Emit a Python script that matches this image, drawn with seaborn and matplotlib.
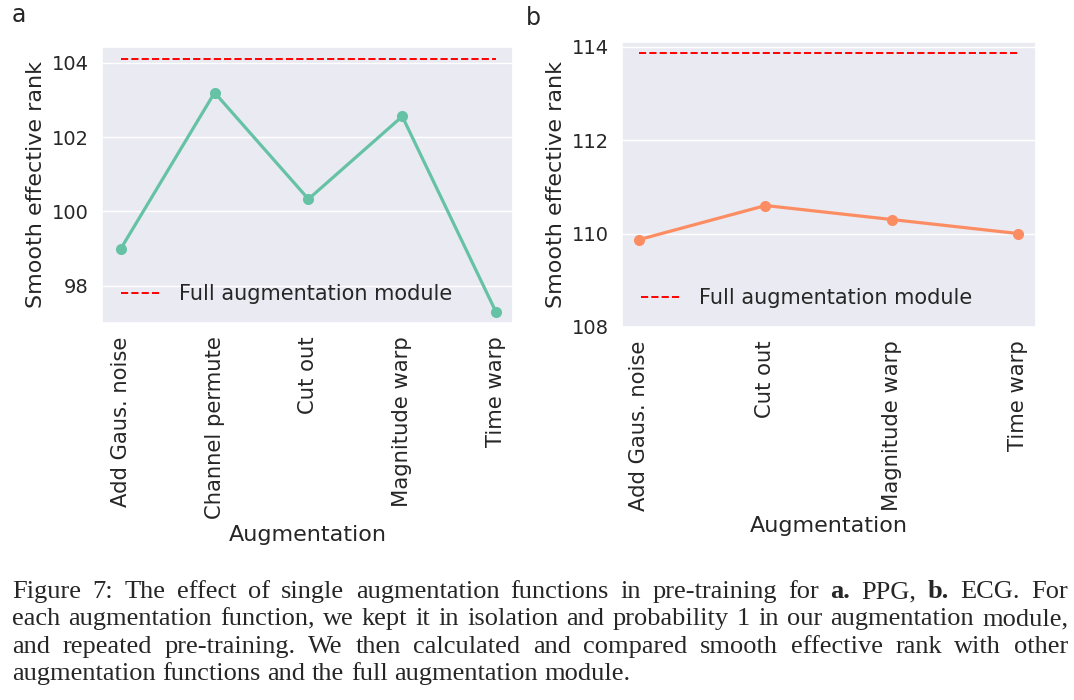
import matplotlib
matplotlib.use("Agg")
import matplotlib.pyplot as plt
import seaborn as sns
import pandas as pd

# data
aug_ppg = ["Add Gaus. noise", "Channel permute", "Cut out", "Magnitude warp", "Time warp"]
rank_ppg = [98.99, 103.2, 100.33, 102.56, 97.28]
full_ppg = 104.12

aug_ecg = ["Add Gaus. noise", "Cut out", "Magnitude warp", "Time warp"]
rank_ecg = [109.87, 110.6, 110.3, 110.0]
full_ecg = 113.86

caption_lines = [
    [("Figure", "normal"), ("7:", "normal"), ("The", "normal"), ("effect", "normal"), ("of", "normal"),
     ("single", "normal"), ("augmentation", "normal"), ("functions", "normal"), ("in", "normal"),
     ("pre-training", "normal"), ("for", "normal"), ("a.", "bold"), ("PPG,", "normal"),
     ("b.", "bold"), ("ECG.", "normal"), ("For", "normal")],
    [(w, "normal") for w in "each augmentation function, we kept it in isolation and probability 1 in our augmentation module,".split()],
    [(w, "normal") for w in "and repeated pre-training.  We then calculated and compared smooth effective rank with other".split()],
    [(w, "normal") for w in "augmentation functions and the full augmentation module.".split()],
]

sns.set_theme(style="darkgrid")
plt.rcParams["font.family"] = ["DejaVu Sans"]

fig = plt.figure(figsize=(10.74, 7), dpi=100)
ax1 = fig.add_axes([102 / 1074, 1 - 323 / 700, 411 / 1074, 276 / 700])
ax2 = fig.add_axes([622 / 1074, 1 - 327 / 700, 414 / 1074, 285 / 700])

pal = sns.color_palette("Set2")

def panel(ax, names, vals, full, color, ylim, xlim):
    df = pd.DataFrame({"Augmentation": names, "rank": vals})
    sns.lineplot(data=df, x="Augmentation", y="rank", ax=ax, color=color, marker="o",
                 markersize=8, markeredgewidth=0, linewidth=2.3, sort=False)
    ax.hlines(full, 0, len(names) - 1, colors="red", linestyles="--", linewidth=1.4,
              label="Full augmentation module")
    ax.set_ylim(*ylim)
    ax.set_xlim(*xlim)
    ax.set_xticks(range(len(names)))
    ax.set_xticklabels(names, rotation=90, fontsize=15.2)
    ax.tick_params(axis="y", labelsize=14)
    ax.grid(False, axis="x")
    ax.set_xlabel("Augmentation", fontsize=16)
    ax.set_ylabel("Smooth effective rank", fontsize=16)
    ax.legend(loc="lower left", frameon=False, fontsize=15)

panel(ax1, aug_ppg, rank_ppg, full_ppg, pal[0], (96.99, 104.43), (-0.2, 4.18))
ax1.set_yticks([98, 100, 102, 104])
panel(ax2, aug_ecg, rank_ecg, full_ecg, pal[1], (108.0, 114.1), (-0.135, 3.14))
ax2.set_yticks([108, 110, 112, 114])

fig.text(12 / 1074, 1 - 15 / 700, "a", fontsize=17, va="center", ha="left")
fig.text(526 / 1074, 1 - 18 / 700, "b", fontsize=17, va="center", ha="left")

# justified caption
renderer = fig.canvas.get_renderer()
left_px, right_px = 12, 1068
baselines = [598, 625, 653, 680]
serif = ["Liberation Serif", "DejaVu Serif"]
cap_size = 19
for i, (words, base) in enumerate(zip(caption_lines, baselines)):
    texts = [fig.text(0, 1 - base / 700, w, fontsize=cap_size, fontweight=wt, family=serif,
                      va="baseline", ha="left") for w, wt in words]
    widths = [t.get_window_extent(renderer).width for t in texts]
    if i < len(caption_lines) - 1:
        gap = (right_px - left_px - sum(widths)) / (len(texts) - 1)
    else:
        gap = fig.text(0, 0, " ", fontsize=cap_size, family=serif).get_window_extent(renderer).width
    x = left_px
    for t, w in zip(texts, widths):
        t.set_x(x / 1074)
        x += w + gap

fig.savefig("out.png", dpi=100)
